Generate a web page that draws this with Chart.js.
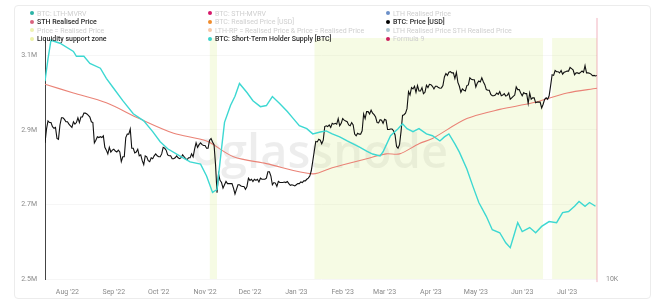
<!DOCTYPE html>
<html><head><meta charset="utf-8">
<script src="https://cdn.jsdelivr.net/npm/chart.js@4.4.1/dist/chart.umd.min.js"></script>
<style>
html,body{margin:0;padding:0;background:#fff;width:660px;height:301px;overflow:hidden}
#wrap{position:relative;width:660px;height:301px}
#card{position:absolute;left:14px;top:5px;width:637px;height:294px;border:1px solid #ececec;border-radius:4px;box-sizing:border-box}
canvas{position:absolute;left:0;top:0}
#legend{position:absolute;left:0;top:0;width:660px;height:50px;font-family:Roboto,"Noto Sans",sans-serif;font-size:7px;pointer-events:none}
.li{position:absolute;white-space:nowrap;line-height:9px;height:9px}
.dot{display:inline-block;width:4px;height:4px;border-radius:50%;margin-right:3px;vertical-align:middle;position:relative;top:-1px}
</style></head><body>
<div id="wrap"><div id="card"></div><canvas id="c" width="660" height="301"></canvas><div id="legend"></div></div>
<script>
// ---------- DATA ----------
const startDate = '2022-07-17';
const endDate = '2023-07-21';
// BTC price [USD, thousands], daily from startDate
const priceK = [
20.8,22.4,23.4,23.2,23.2,22.7,22.5,22.6,21.3,21.2,22.9,23.8,23.8,23.6,23.3,
23.3,23.0,22.8,22.6,23.3,23.0,23.2,23.8,23.2,23.9,23.9,24.4,24.4,24.3,24.1,23.9,23.3,23.2,20.8,21.1,21.5,21.4,21.5,21.4,21.6,20.3,20.0,19.6,20.3,19.8,20.0,
20.1,19.9,19.8,20.0,19.8,18.8,19.3,19.3,21.4,21.8,21.8,22.4,20.2,20.2,19.7,19.8,20.1,19.4,19.5,18.9,18.5,19.4,19.3,18.9,18.8,19.2,19.1,19.4,19.6,19.4,
19.3,19.3,19.6,20.3,20.2,20.0,19.5,19.4,19.4,19.1,19.1,19.2,19.4,19.2,19.1,19.2,19.5,19.3,19.1,19.0,19.2,19.2,19.6,19.3,20.1,20.8,20.3,20.6,20.8,20.6,20.5,
20.5,20.2,20.2,21.1,21.3,20.9,20.6,18.5,15.9,17.6,17.0,16.8,16.3,16.6,16.9,16.7,16.7,16.7,16.7,16.3,15.8,16.2,16.6,16.6,16.5,16.45,16.45,16.2,16.45,17.2,
17.0,17.1,16.9,17.1,17.0,17.1,16.85,17.2,17.1,17.1,17.1,17.2,17.8,17.8,17.4,16.6,16.8,16.75,16.45,16.9,16.8,16.8,16.8,16.85,16.8,16.9,16.7,16.55,16.6,16.55,16.5,
16.6,16.7,16.7,16.85,16.8,16.95,16.95,17.1,17.2,17.4,17.9,18.85,19.9,20.95,20.9,21.2,21.1,20.7,21.1,22.7,22.8,22.7,22.9,22.6,23.1,23.0,23.1,23.0,23.7,22.8,23.1,
23.7,23.5,23.4,23.3,22.9,22.8,23.2,22.9,21.8,21.6,21.9,21.8,21.8,22.2,24.3,23.7,24.6,24.6,24.3,24.8,24.4,24.2,23.9,23.2,23.15,23.55,23.5,23.1,
23.6,23.5,22.35,22.35,22.4,22.4,22.2,21.7,20.4,20.2,20.6,22.1,24.1,24.2,24.4,25.0,27.4,26.9,28.0,27.8,28.2,27.3,28.3,27.5,27.5,28.0,27.1,27.3,28.35,28.0,28.5,
28.45,28.2,27.8,28.2,28.2,28.0,27.9,27.95,28.3,29.65,30.2,29.9,30.4,30.5,30.3,30.3,29.4,30.4,28.8,28.2,27.3,27.8,27.6,27.5,28.3,28.4,29.5,29.3,29.2,29.2,
28.1,28.7,29.0,28.85,29.5,28.9,28.45,27.7,27.6,27.6,26.98,26.8,26.8,26.9,27.2,27.0,27.4,26.8,26.9,27.1,26.75,26.85,27.2,26.3,26.5,26.7,26.9,28.1,27.7,27.7,27.2,
26.8,27.25,27.1,27.1,25.7,27.2,26.3,26.5,26.5,25.8,25.9,25.9,25.9,25.1,25.6,26.3,26.5,26.3,26.8,28.3,30.0,29.9,30.7,30.5,30.5,30.3,30.7,30.1,30.4,30.5,
30.6,30.6,31.2,31.0,30.8,30.0,30.3,30.3,30.2,30.4,30.6,30.4,31.5,30.3,30.3,30.25,30.1,29.85,29.9,29.8,29.9
];
// Short-Term Holder Supply [BTC, millions]
const supplyDates = ['2022-07-17','2022-07-19','2022-07-21','2022-07-27','2022-08-05','2022-08-07','2022-08-12','2022-08-16','2022-08-23','2022-08-27','2022-08-31','2022-09-07','2022-09-14','2022-09-21','2022-09-27','2022-10-02','2022-10-07','2022-10-15','2022-10-22','2022-10-29','2022-11-02','2022-11-06','2022-11-09','2022-11-11','2022-11-14','2022-11-18','2022-11-21','2022-11-24','2022-11-29','2022-12-03','2022-12-08','2022-12-12','2022-12-16','2022-12-21','2022-12-26','2022-12-30','2023-01-03','2023-01-08','2023-01-12','2023-01-17','2023-01-21','2023-01-25','2023-01-30','2023-02-04','2023-02-08','2023-02-12','2023-02-17','2023-02-21','2023-02-26','2023-02-28','2023-03-05','2023-03-10','2023-03-13','2023-03-16','2023-03-20','2023-03-24','2023-03-29','2023-04-02','2023-04-07','2023-04-10','2023-04-13','2023-04-17','2023-04-20','2023-04-25','2023-04-29','2023-05-03','2023-05-08','2023-05-12','2023-05-17','2023-05-21','2023-05-24','2023-05-27','2023-05-29','2023-06-01','2023-06-06','2023-06-10','2023-06-14','2023-06-19','2023-06-24','2023-06-28','2023-07-02','2023-07-06','2023-07-09','2023-07-13','2023-07-16','2023-07-20'];
const supplyM = [3.030,3.090,3.140,3.132,3.110,3.097,3.097,3.078,3.065,3.038,
3.016,2.978,2.943,2.924,2.895,2.868,2.849,2.830,2.814,2.808,
2.776,2.732,2.740,2.814,2.920,2.965,2.990,3.024,3.000,2.978,
2.962,2.965,2.989,2.970,2.949,2.930,2.911,2.903,2.889,2.894,
2.897,2.889,2.881,2.870,2.862,2.854,2.843,2.835,2.830,2.841,
2.884,2.903,2.916,2.903,2.895,2.903,2.889,2.884,2.870,2.881,
2.889,2.862,2.840,2.795,2.749,2.705,2.668,2.632,2.624,2.597,
2.584,2.624,2.651,2.627,2.638,2.624,2.641,2.654,2.651,2.678,
2.681,2.695,2.708,2.695,2.705,2.695];
// STH Realised Price [USD, thousands]
const sthRpDates = ['2022-07-17','2022-08-05','2022-08-27','2022-09-18','2022-10-11','2022-11-02','2022-11-20','2022-12-12','2023-01-12','2023-01-25','2023-02-17','2023-03-02','2023-03-11','2023-03-24','2023-04-02','2023-04-25','2023-05-17','2023-06-08','2023-07-01','2023-07-21'];
const sthRpK = [28.5,27.2,25.8,23.7,21.9,21.0,19.3,18.6,17.6,18.2,19.1,19.6,19.6,20.7,21.3,23.7,24.9,25.8,27.2,27.9];
// Liquidity support zone periods
const zoneStarts = ['2022-11-04','2023-01-13','2023-06-21'];
const zoneEnds   = ['2022-11-09','2023-06-15','2023-07-21'];
// Axis ticks
const monthTicks = ['2022-08-01','2022-09-01','2022-10-01','2022-11-01','2022-12-01','2023-01-01','2023-02-01','2023-03-01','2023-04-01','2023-05-01','2023-06-01','2023-07-01'];
const monthLabels = ["Aug '22","Sep '22","Oct '22","Nov '22","Dec '22","Jan '23","Feb '23","Mar '23","Apr '23","May '23","Jun '23","Jul '23"];
const leftTicks = [2.5e6,2.7e6,2.9e6,3.1e6];
const rightTicks = [10000];
// Legend
const legendLabels = ['BTC: LTH-MVRV','STH Realised Price','Price = Realised Price','Liquidity support zone',
 'BTC: STH-MVRV','BTC: Realised Price [USD]','LTH-RP = Realised Price & Price = Realised Price','BTC: Short-Term Holder Supply [BTC]',
 'LTH Realised Price','BTC: Price [USD]','LTH Realised Price STH Realised Price','Formula 9'];
const legendColors = ['#2bb3a6','#d9647f','#eef3b0','#edf2a8','#d6186a','#f08c2c','#f7c7a6','#3cd3cc','#6b8fc8','#000000','#a9c2d0','#cc1f5e'];
const legendActive = [false,true,false,true,false,false,false,true,false,true,false,false];

// ---------- BUILD ----------
const t0 = Date.parse(startDate + 'T00:00:00Z');
const dayNum = s => (Date.parse(s + 'T00:00:00Z') - t0) / 864e5;
const xMax = dayNum(endDate);

const priceData = priceK.map((v, i) => ({x: i, y: v * 1000}));
const supplyData = supplyDates.map((d, i) => ({x: dayNum(d), y: supplyM[i] * 1e6}));
const sthData = sthRpDates.map((d, i) => ({x: dayNum(d), y: sthRpK[i] * 1000}));
const zoneData = [];
zoneStarts.forEach((s, i) => {
  zoneData.push({x: dayNum(s), y: 1}, {x: dayNum(zoneEnds[i]), y: 1}, {x: dayNum(zoneEnds[i]), y: null});
});

// legend (HTML)
const lg = document.getElementById('legend');
const colX = [30, 208, 386], rowY = [10, 18.4, 27, 35.4];
legendLabels.forEach((t, i) => {
  const d = document.createElement('div');
  d.className = 'li';
  d.style.left = colX[Math.floor(i / 4)] + 'px';
  d.style.top = rowY[i % 4] + 'px';
  d.style.color = legendActive[i] ? '#2a2a2a' : '#cfcfcf';
  d.style.fontWeight = legendActive[i] ? '500' : '400';
  const dot = document.createElement('span');
  dot.className = 'dot';
  dot.style.background = legendColors[i];
  d.appendChild(dot);
  d.appendChild(document.createTextNode(t));
  lg.appendChild(d);
});

const watermark = {
  id: 'watermark',
  beforeDatasetsDraw(chart) {
    const ctx = chart.ctx;
    ctx.save();
    ctx.fillStyle = 'rgba(0,0,0,0.07)';
    ctx.font = '600 47px "Open Sans", sans-serif';
    ctx.textBaseline = 'alphabetic';
    ctx.textAlign = 'left';
    ctx.fillText('glassnode', 221, 168);
    ctx.strokeStyle = 'rgba(0,0,0,0.06)';
    ctx.lineWidth = 5;
    ctx.beginPath();
    ctx.arc(207, 152, 11, 0, Math.PI * 2);
    ctx.stroke();
    ctx.restore();
  }
};

Chart.defaults.font.family = 'Roboto, "Noto Sans", sans-serif';
new Chart(document.getElementById('c'), {
  type: 'line',
  data: {
    datasets: [
      {label: 'edge', data: [{x: xMax, y: -0.013}, {x: xMax, y: 1.083}], yAxisID: 'yz', borderColor: 'rgba(232,118,140,0.55)', borderWidth: 1, pointRadius: 0, clip: false, order: 0},
      {label: 'BTC: Short-Term Holder Supply [BTC]', data: supplyData, yAxisID: 'y', borderColor: '#3dd8d2', borderWidth: 1.4, pointRadius: 0, tension: 0, order: 1},
      {label: 'BTC: Price [USD]', data: priceData, yAxisID: 'yp', borderColor: '#111', borderWidth: 1.1, pointRadius: 0, tension: 0, order: 2},
      {label: 'STH Realised Price', data: sthData, yAxisID: 'yp', borderColor: '#ea8377', borderWidth: 1.1, pointRadius: 0, tension: 0.3, order: 3},
      {label: 'Liquidity support zone', data: zoneData, yAxisID: 'yz', borderColor: 'rgba(0,0,0,0)', borderWidth: 0, backgroundColor: 'rgba(222,240,150,0.26)', fill: 'start', spanGaps: false, pointRadius: 0, order: 5}
    ]
  },
  options: {
    responsive: false,
    animation: false,
    devicePixelRatio: 1,
    layout: {padding: {top: 38, left: 0, right: 0, bottom: 0}},
    plugins: {legend: {display: false}, tooltip: {enabled: false}},
    scales: {
      x: {
        type: 'linear', min: 0, max: xMax,
        afterBuildTicks: s => { s.ticks = monthTicks.map(d => ({value: dayNum(d)})); },
        afterFit: s => { s.height = 22; },
        grid: {display: false, drawTicks: false},
        border: {display: false},
        ticks: {callback: (v, i) => monthLabels[i], font: {size: 7}, color: '#8a8a8a', padding: 9, maxRotation: 0, autoSkip: false}
      },
      y: {
        type: 'linear', position: 'left', min: 2.5e6, max: 3.146e6,
        afterBuildTicks: s => { s.ticks = leftTicks.map(v => ({value: v})); },
        afterFit: s => { s.width = 45; },
        grid: {color: '#f6f6f6', drawTicks: false},
        border: {display: true, color: '#444', width: 1},
        ticks: {callback: v => (v / 1e6).toFixed(1) + 'M', font: {size: 7}, color: '#8a8a8a', padding: 8}
      },
      yp: {
        type: 'logarithmic', position: 'right', min: 10000, max: 36560,
        afterBuildTicks: s => { s.ticks = rightTicks.map(v => ({value: v})); },
        afterFit: s => { s.width = 63; },
        grid: {display: false, drawTicks: false},
        border: {display: false},
        ticks: {callback: v => (v / 1000) + 'K', font: {size: 7}, color: '#8a8a8a', padding: 9}
      },
      yz: {type: 'linear', display: false, min: 0, max: 1}
    }
  },
  plugins: [watermark]
});
</script>
</body></html>
